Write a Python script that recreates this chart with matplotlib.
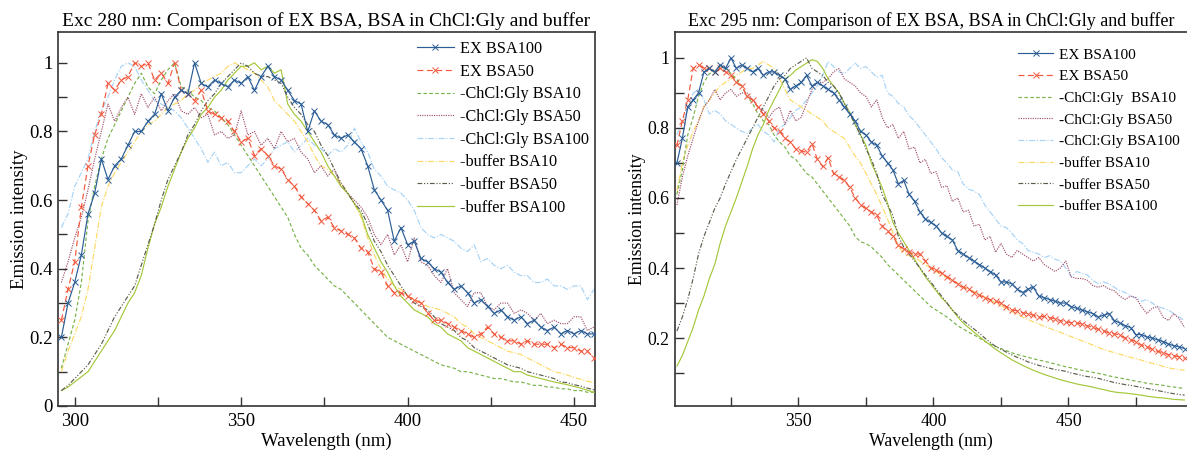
import numpy as np
import matplotlib
matplotlib.use('Agg')
import matplotlib.pyplot as plt
from matplotlib.ticker import MultipleLocator, FuncFormatter

plt.rcParams['font.family'] = ['Liberation Serif', 'DejaVu Serif']

# wavelength sample positions (nm)
wl_280 = np.arange(296, 457, 2)
wl_295 = np.arange(305, 494, 2)

labels_280 = ['EX BSA100', 'EX BSA50', '-ChCl:Gly BSA10', '-ChCl:Gly BSA50',
              '-ChCl:Gly BSA100', '-buffer BSA10', '-buffer BSA50', '-buffer BSA100']
labels_295 = ['EX BSA100', 'EX BSA50', '-ChCl:Gly  BSA10', '-ChCl:Gly BSA50',
              '-ChCl:Gly BSA100', '-buffer BSA10', '-buffer BSA50', '-buffer BSA100']

# ---- Exc 280 nm ----
ex100_280 = [0.20, 0.30, 0.36, 0.44, 0.56, 0.62, 0.72, 0.66, 0.70, 0.72,
             0.76, 0.80, 0.80, 0.83, 0.85, 0.91, 0.86, 0.90, 0.92, 0.91,
             1.00, 0.94, 0.93, 0.95, 0.94, 0.93, 0.95, 0.94, 0.96, 0.92,
             0.96, 0.99, 0.96, 0.95, 0.92, 0.89, 0.88, 0.80, 0.86, 0.83,
             0.82, 0.79, 0.78, 0.79, 0.77, 0.75, 0.70, 0.63, 0.60, 0.57,
             0.48, 0.52, 0.47, 0.48, 0.43, 0.42, 0.40, 0.39, 0.36, 0.34,
             0.35, 0.33, 0.30, 0.31, 0.29, 0.27, 0.28, 0.26, 0.25, 0.26,
             0.24, 0.25, 0.23, 0.22, 0.23, 0.21, 0.22, 0.21, 0.22, 0.21,
             0.21]
ex50_280 = [0.25, 0.34, 0.42, 0.58, 0.70, 0.79, 0.85, 0.94, 0.92, 0.95,
            0.96, 1.00, 0.99, 1.00, 0.95, 0.97, 0.94, 1.00, 0.92, 0.91,
            0.89, 0.92, 0.86, 0.85, 0.84, 0.83, 0.80, 0.77, 0.78, 0.73,
            0.75, 0.73, 0.70, 0.69, 0.66, 0.64, 0.61, 0.59, 0.57, 0.54,
            0.55, 0.52, 0.51, 0.50, 0.49, 0.46, 0.45, 0.40, 0.39, 0.35,
            0.33, 0.33, 0.32, 0.31, 0.30, 0.27, 0.25, 0.25, 0.24, 0.23,
            0.22, 0.21, 0.20, 0.21, 0.23, 0.21, 0.20, 0.19, 0.19, 0.18,
            0.19, 0.18, 0.18, 0.18, 0.17, 0.18, 0.17, 0.17, 0.16, 0.16,
            0.14]
chgly10_280 = [0.11, 0.18, 0.25, 0.36, 0.54, 0.64, 0.72, 0.78, 0.82, 0.86,
               0.90, 0.94, 0.97, 0.93, 0.91, 0.95, 0.98, 1.00, 0.93, 0.92,
               0.90, 0.89, 0.87, 0.86, 0.84, 0.82, 0.79, 0.76, 0.73, 0.70,
               0.67, 0.64, 0.61, 0.58, 0.55, 0.50, 0.46, 0.44, 0.41, 0.39,
               0.37, 0.35, 0.34, 0.32, 0.30, 0.28, 0.26, 0.24, 0.22, 0.20,
               0.19, 0.18, 0.17, 0.16, 0.15, 0.14, 0.13, 0.12, 0.115, 0.11,
               0.10, 0.10, 0.095, 0.09, 0.085, 0.08, 0.08, 0.075, 0.07, 0.07,
               0.065, 0.06, 0.06, 0.055, 0.055, 0.05, 0.05, 0.045, 0.045, 0.04,
               0.04]
chgly50_280 = [0.36, 0.42, 0.49, 0.55, 0.63, 0.72, 0.80, 0.88, 0.83, 0.87,
               0.90, 0.85, 0.91, 0.87, 0.90, 0.86, 0.89, 0.91, 0.86, 0.85,
               0.87, 0.84, 0.85, 0.79, 0.80, 0.78, 0.79, 0.86, 0.79, 0.80,
               0.76, 0.78, 0.75, 0.80, 0.77, 0.78, 0.74, 0.72, 0.68, 0.70,
               0.67, 0.69, 0.64, 0.62, 0.60, 0.58, 0.55, 0.50, 0.47, 0.50,
               0.44, 0.47, 0.42, 0.49, 0.42, 0.41, 0.38, 0.36, 0.40, 0.33,
               0.31, 0.29, 0.33, 0.33, 0.29, 0.28, 0.30, 0.30, 0.27, 0.28,
               0.27, 0.25, 0.27, 0.24, 0.25, 0.24, 0.24, 0.26, 0.26, 0.22,
               0.23]
chgly100_280 = [0.52, 0.56, 0.64, 0.68, 0.72, 0.80, 0.86, 0.90, 0.95, 0.99,
                1.00, 0.99, 0.95, 0.92, 0.89, 0.88, 0.87, 0.86, 0.84, 0.81,
                0.78, 0.75, 0.71, 0.74, 0.70, 0.71, 0.68, 0.68, 0.70, 0.72,
                0.70, 0.72, 0.75, 0.76, 0.77, 0.74, 0.76, 0.78, 0.76, 0.75,
                0.73, 0.75, 0.74, 0.76, 0.81, 0.77, 0.74, 0.69, 0.67, 0.64,
                0.63, 0.62, 0.60, 0.57, 0.52, 0.50, 0.49, 0.50, 0.49, 0.48,
                0.46, 0.45, 0.47, 0.42, 0.43, 0.41, 0.40, 0.41, 0.39, 0.38,
                0.38, 0.36, 0.36, 0.37, 0.35, 0.35, 0.34, 0.35, 0.35, 0.31,
                0.34]
buf10_280 = [0.10, 0.16, 0.21, 0.26, 0.34, 0.46, 0.58, 0.64, 0.68, 0.71,
             0.74, 0.77, 0.80, 0.82, 0.83, 0.85, 0.87, 0.88, 0.89, 0.91,
             0.92, 0.94, 0.95, 0.96, 0.97, 0.99, 1.00, 0.99, 0.98, 0.97,
             0.95, 0.93, 0.89, 0.87, 0.85, 0.83, 0.80, 0.77, 0.73, 0.70,
             0.69, 0.67, 0.65, 0.62, 0.59, 0.55, 0.49, 0.44, 0.40, 0.37,
             0.35, 0.34, 0.32, 0.31, 0.30, 0.29, 0.285, 0.28, 0.27, 0.26,
             0.24, 0.23, 0.21, 0.20, 0.19, 0.18, 0.17, 0.16, 0.155, 0.15,
             0.14, 0.13, 0.12, 0.11, 0.10, 0.096, 0.09, 0.083, 0.078, 0.072,
             0.068]
buf50_280 = [0.045, 0.06, 0.08, 0.10, 0.12, 0.15, 0.18, 0.22, 0.26, 0.29,
             0.32, 0.35, 0.41, 0.47, 0.53, 0.60, 0.66, 0.70, 0.74, 0.79,
             0.82, 0.86, 0.89, 0.91, 0.94, 0.96, 0.98, 1.00, 0.99, 0.97,
             0.96, 0.96, 0.95, 0.94, 0.90, 0.87, 0.85, 0.82, 0.80, 0.76,
             0.73, 0.69, 0.65, 0.62, 0.59, 0.57, 0.53, 0.48, 0.45, 0.41,
             0.38, 0.35, 0.32, 0.30, 0.29, 0.28, 0.26, 0.24, 0.23, 0.22,
             0.20, 0.19, 0.17, 0.16, 0.15, 0.14, 0.13, 0.12, 0.115, 0.11,
             0.10, 0.095, 0.09, 0.085, 0.08, 0.07, 0.068, 0.062, 0.058, 0.052,
             0.047]
buf100_280 = [0.045, 0.055, 0.07, 0.085, 0.10, 0.13, 0.16, 0.19, 0.22, 0.26,
              0.30, 0.33, 0.38, 0.46, 0.53, 0.58, 0.64, 0.69, 0.74, 0.78,
              0.81, 0.85, 0.87, 0.90, 0.92, 0.95, 0.97, 0.99, 0.99, 1.00,
              0.98, 0.99, 0.97, 0.98, 0.88, 0.85, 0.83, 0.80, 0.77, 0.74,
              0.70, 0.67, 0.64, 0.62, 0.59, 0.56, 0.50, 0.46, 0.42, 0.39,
              0.35, 0.32, 0.30, 0.28, 0.27, 0.26, 0.24, 0.23, 0.21, 0.20,
              0.19, 0.17, 0.16, 0.15, 0.14, 0.13, 0.12, 0.11, 0.10, 0.10,
              0.09, 0.085, 0.08, 0.075, 0.07, 0.066, 0.062, 0.057, 0.052, 0.046,
              0.04]

# ---- Exc 295 nm ----
ex100_295 = [0.70, 0.77, 0.86, 0.88, 0.90, 0.96, 0.97, 0.96, 0.98, 0.97,
             1.00, 0.97, 0.98, 0.97, 0.96, 0.97, 0.95, 0.96, 0.96, 0.95,
             0.94, 0.91, 0.92, 0.93, 0.95, 0.92, 0.93, 0.92, 0.91, 0.90,
             0.88, 0.86, 0.84, 0.82, 0.79, 0.78, 0.76, 0.75, 0.72, 0.70,
             0.68, 0.64, 0.65, 0.61, 0.59, 0.56, 0.54, 0.53, 0.52, 0.50,
             0.49, 0.48, 0.45, 0.44, 0.43, 0.42, 0.41, 0.40, 0.39, 0.38,
             0.36, 0.36, 0.355, 0.34, 0.33, 0.34, 0.345, 0.32, 0.315, 0.31,
             0.305, 0.30, 0.30, 0.29, 0.285, 0.28, 0.275, 0.27, 0.26, 0.265,
             0.27, 0.25, 0.243, 0.235, 0.23, 0.21, 0.21, 0.203, 0.20, 0.195,
             0.19, 0.183, 0.178, 0.175, 0.17]
ex50_295 = [0.75, 0.82, 0.88, 0.97, 0.98, 0.97, 0.97, 0.96, 0.97, 0.96,
            0.95, 0.93, 0.92, 0.89, 0.88, 0.86, 0.84, 0.82, 0.80, 0.79,
            0.77, 0.76, 0.74, 0.735, 0.73, 0.755, 0.71, 0.69, 0.715, 0.67,
            0.66, 0.65, 0.63, 0.60, 0.58, 0.57, 0.56, 0.55, 0.52, 0.505,
            0.49, 0.465, 0.455, 0.445, 0.44, 0.44, 0.42, 0.40, 0.395, 0.385,
            0.375, 0.365, 0.355, 0.345, 0.34, 0.33, 0.323, 0.315, 0.31, 0.305,
            0.30, 0.29, 0.28, 0.278, 0.272, 0.27, 0.265, 0.26, 0.262, 0.258,
            0.255, 0.25, 0.246, 0.244, 0.243, 0.24, 0.235, 0.231, 0.225, 0.22,
            0.215, 0.212, 0.209, 0.20, 0.195, 0.19, 0.18, 0.175, 0.168, 0.162,
            0.158, 0.153, 0.15, 0.146, 0.143]
chgly10_295 = [0.61, 0.68, 0.78, 0.83, 0.89, 0.93, 0.955, 0.96, 0.97, 0.97,
               0.955, 0.94, 0.92, 0.89, 0.87, 0.84, 0.82, 0.81, 0.78, 0.76,
               0.745, 0.72, 0.71, 0.69, 0.67, 0.66, 0.64, 0.62, 0.60, 0.58,
               0.56, 0.54, 0.52, 0.49, 0.475, 0.47, 0.46, 0.445, 0.43, 0.41,
               0.395, 0.38, 0.365, 0.35, 0.335, 0.32, 0.305, 0.29, 0.28, 0.27,
               0.26, 0.248, 0.235, 0.226, 0.217, 0.209, 0.20, 0.19, 0.183, 0.176,
               0.17, 0.164, 0.158, 0.153, 0.149, 0.145, 0.141, 0.137, 0.134, 0.13,
               0.126, 0.122, 0.118, 0.115, 0.111, 0.108, 0.105, 0.102, 0.099, 0.096,
               0.092, 0.089, 0.086, 0.083, 0.08, 0.077, 0.074, 0.071, 0.069, 0.067,
               0.065, 0.062, 0.06, 0.058, 0.056]
chgly50_295 = [0.58, 0.66, 0.72, 0.77, 0.82, 0.86, 0.88, 0.91, 0.88, 0.90,
               0.91, 0.89, 0.90, 0.90, 0.88, 0.86, 0.85, 0.83, 0.85, 0.86,
               0.81, 0.85, 0.82, 0.83, 0.87, 0.91, 0.93, 0.93, 0.94, 0.96,
               0.97, 0.94, 0.93, 0.92, 0.90, 0.89, 0.86, 0.88, 0.83, 0.80,
               0.81, 0.77, 0.79, 0.74, 0.745, 0.70, 0.71, 0.67, 0.675, 0.63,
               0.635, 0.59, 0.60, 0.56, 0.565, 0.52, 0.525, 0.48, 0.49, 0.445,
               0.47, 0.44, 0.43, 0.45, 0.44, 0.43, 0.42, 0.43, 0.41, 0.40,
               0.39, 0.40, 0.42, 0.375, 0.37, 0.37, 0.365, 0.35, 0.345, 0.35,
               0.34, 0.335, 0.32, 0.31, 0.32, 0.315, 0.29, 0.27, 0.285, 0.29,
               0.26, 0.25, 0.27, 0.255, 0.23]
chgly100_295 = [0.78, 0.82, 0.85, 0.90, 0.91, 0.88, 0.84, 0.85, 0.84, 0.82,
                0.81, 0.80, 0.79, 0.785, 0.80, 0.81, 0.79, 0.78, 0.76, 0.80,
                0.81, 0.83, 0.85, 0.86, 0.88, 0.90, 0.92, 0.95, 0.99, 0.975,
                0.96, 0.955, 0.97, 0.985, 0.97, 0.975, 0.96, 0.945, 0.95, 0.90,
                0.89, 0.87, 0.86, 0.835, 0.82, 0.80, 0.78, 0.76, 0.74, 0.715,
                0.70, 0.68, 0.675, 0.64, 0.625, 0.62, 0.61, 0.58, 0.56, 0.54,
                0.52, 0.515, 0.50, 0.48, 0.47, 0.45, 0.445, 0.44, 0.43, 0.435,
                0.425, 0.42, 0.40, 0.375, 0.39, 0.385, 0.38, 0.365, 0.355, 0.36,
                0.355, 0.345, 0.335, 0.33, 0.32, 0.315, 0.305, 0.31, 0.30, 0.29,
                0.285, 0.28, 0.27, 0.26, 0.25]
buf10_295 = [0.62, 0.70, 0.75, 0.79, 0.82, 0.86, 0.88, 0.90, 0.92, 0.93,
             0.94, 0.95, 0.96, 0.97, 0.97, 0.98, 0.99, 0.98, 0.97, 0.94,
             0.91, 0.88, 0.87, 0.86, 0.85, 0.84, 0.83, 0.82, 0.80, 0.79,
             0.78, 0.77, 0.745, 0.72, 0.70, 0.67, 0.64, 0.61, 0.575, 0.54,
             0.50, 0.46, 0.445, 0.435, 0.43, 0.42, 0.41, 0.40, 0.39, 0.38,
             0.372, 0.365, 0.355, 0.346, 0.34, 0.333, 0.325, 0.317, 0.31, 0.30,
             0.292, 0.284, 0.276, 0.268, 0.26, 0.253, 0.246, 0.24, 0.234, 0.228,
             0.222, 0.216, 0.21, 0.204, 0.198, 0.192, 0.186, 0.18, 0.173, 0.168,
             0.163, 0.158, 0.154, 0.149, 0.145, 0.141, 0.137, 0.132, 0.128, 0.124,
             0.119, 0.115, 0.112, 0.11, 0.108]
buf50_295 = [0.22, 0.26, 0.31, 0.37, 0.44, 0.49, 0.53, 0.57, 0.60, 0.64,
             0.675, 0.71, 0.74, 0.77, 0.80, 0.83, 0.86, 0.89, 0.92, 0.94,
             0.95, 0.97, 0.98, 0.99, 1.00, 0.97, 0.96, 0.95, 0.93, 0.92,
             0.90, 0.87, 0.84, 0.81, 0.78, 0.74, 0.71, 0.67, 0.61, 0.58,
             0.55, 0.49, 0.46, 0.44, 0.42, 0.40, 0.38, 0.36, 0.34, 0.32,
             0.30, 0.28, 0.265, 0.25, 0.238, 0.226, 0.214, 0.20, 0.188, 0.176,
             0.168, 0.16, 0.152, 0.145, 0.139, 0.132, 0.127, 0.122, 0.118, 0.114,
             0.11, 0.108, 0.105, 0.10, 0.097, 0.093, 0.09, 0.088, 0.085, 0.081,
             0.077, 0.073, 0.07, 0.067, 0.065, 0.062, 0.059, 0.056, 0.053, 0.05,
             0.047, 0.044, 0.041, 0.039, 0.037]
buf100_295 = [0.12, 0.15, 0.19, 0.23, 0.28, 0.32, 0.37, 0.41, 0.47, 0.52,
              0.56, 0.60, 0.645, 0.69, 0.74, 0.78, 0.81, 0.85, 0.88, 0.91,
              0.94, 0.95, 0.965, 0.975, 0.985, 0.995, 0.99, 0.97, 0.94, 0.92,
              0.90, 0.87, 0.845, 0.81, 0.78, 0.75, 0.70, 0.665, 0.63, 0.585,
              0.53, 0.50, 0.475, 0.45, 0.425, 0.40, 0.375, 0.355, 0.335, 0.315,
              0.30, 0.28, 0.26, 0.243, 0.23, 0.217, 0.204, 0.192, 0.18, 0.168,
              0.158, 0.148, 0.138, 0.13, 0.122, 0.115, 0.108, 0.102, 0.096, 0.091,
              0.086, 0.081, 0.077, 0.073, 0.069, 0.066, 0.063, 0.06, 0.056, 0.053,
              0.049, 0.046, 0.044, 0.043, 0.041, 0.039, 0.037, 0.034, 0.032, 0.03,
              0.029, 0.027, 0.025, 0.024, 0.023]

series_280 = [ex100_280, ex50_280, chgly10_280, chgly50_280,
              chgly100_280, buf10_280, buf50_280, buf100_280]
series_295 = [ex100_295, ex50_295, chgly10_295, chgly50_295,
              chgly100_295, buf10_295, buf50_295, buf100_295]

# line look for each series, same order as the labels
styles = [
    dict(color='#2b5d95', ls='-', marker='x', zorder=9),
    dict(color='#f2573b', ls=(0, (5, 3)), marker='x', zorder=8),
    dict(color='#78b34a', ls=(0, (3, 2)), marker='', zorder=3),
    dict(color='#a2516d', ls=(0, (1, 1)), marker='', zorder=4),
    dict(color='#a7d3f6', ls=(0, (5, 1.5, 1, 1.5)), marker='', zorder=2),
    dict(color='#fdd964', ls=(0, (5, 1.5, 1, 1.5)), marker='', zorder=2),
    dict(color='#5d5d4f', ls=(0, (4, 1.5, 1, 1.5, 1, 1.5)), marker='', zorder=5),
    dict(color='#a4c83a', ls='-', marker='', zorder=4),
]

SPINE = '#333333'


def draw_panel(ax, wl, series, labels, title, xlim, ylim, leg_anchor,
               show_right, fs_title, fs_text, fs_leg, leg_space):
    for vals, lab, st in zip(series, labels, styles):
        ax.plot(wl, vals, label=lab, lw=0.85, ms=4, mew=0.7, **st)
    ax.set_xlim(*xlim)
    ax.set_ylim(*ylim)
    ax.xaxis.set_major_locator(MultipleLocator(50))
    ax.xaxis.set_minor_locator(MultipleLocator(25))
    ax.yaxis.set_major_locator(MultipleLocator(0.2))
    ax.yaxis.set_minor_locator(MultipleLocator(0.1))
    ax.yaxis.set_major_formatter(FuncFormatter(lambda v, p: f'{v:g}'))
    ax.tick_params(which='both', direction='in', length=6.5, width=1.0,
                   color=SPINE, labelsize=fs_text, top=False, right=False)
    ax.tick_params(axis='x', pad=5)
    ax.tick_params(axis='y', pad=4)
    for name, sp in ax.spines.items():
        sp.set_color(SPINE)
        sp.set_linewidth(1.2)
    ax.spines['right'].set_visible(show_right)
    ax.set_title(title, fontsize=fs_title, pad=4)
    ax.set_xlabel('Wavelength (nm)', fontsize=fs_text, labelpad=2)
    ax.set_ylabel('Emission intensity', fontsize=fs_text, labelpad=1)
    ax.legend(loc='upper left', bbox_to_anchor=leg_anchor, frameon=False,
              fontsize=fs_leg, handlelength=2.3, handletextpad=0.35,
              labelspacing=leg_space, borderpad=0, borderaxespad=0, numpoints=1)


fig = plt.figure(figsize=(11.87, 4.51), dpi=100)
ax1 = fig.add_axes([0.0489, 0.0998, 0.4524, 0.8293])
ax2 = fig.add_axes([0.5687, 0.0998, 0.4313, 0.8293])

draw_panel(ax1, wl_280, series_280, labels_280,
           'Exc 280 nm: Comparison of EX BSA, BSA in ChCl:Gly and buffer',
           (295, 456.3), (0, 1.09), (0.668, 0.976), True,
           14, 13.5, 11.7, 0.41)
draw_panel(ax2, wl_295, series_295, labels_295,
           'Exc 295 nm: Comparison of EX BSA, BSA in ChCl:Gly and buffer',
           (304.3, 493.9), (0.006, 1.074), (0.67, 0.957), False,
           13, 12.8, 11, 0.52)

fig.savefig('out.png', dpi=100)
